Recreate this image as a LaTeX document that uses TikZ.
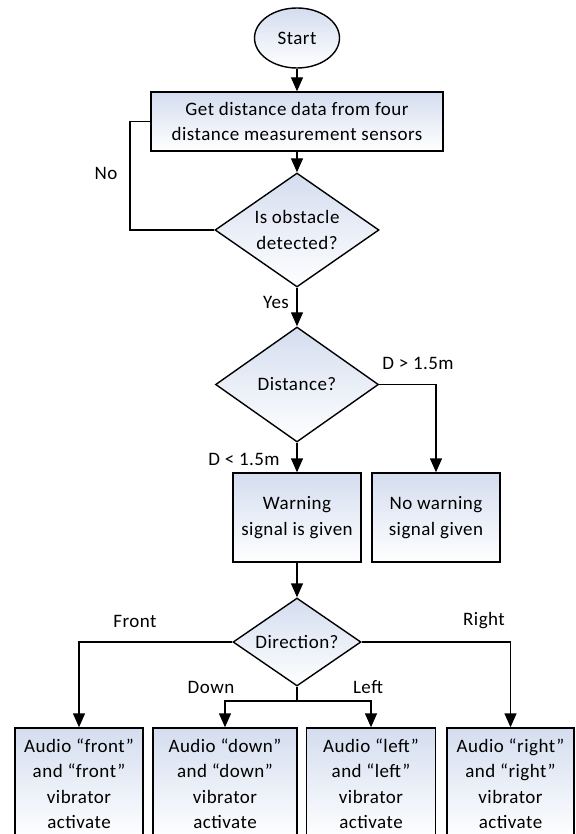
\documentclass[tikz,border=0pt]{standalone}
\usepackage{fontspec}
\setmainfont{Carlito}[LetterSpace=2.5]
\usetikzlibrary{shapes.geometric,arrows.meta}
\definecolor{shadetop}{RGB}{212,221,239}
\begin{document}
\begin{tikzpicture}[x=1pt,y=-1pt,
  base/.style={draw=black, line width=1.4pt, top color=shadetop, bottom color=white,
    font=\fontsize{19}{25.5}\selectfont, align=center, inner sep=0pt},
  procbox/.style={base, rectangle},
  decision/.style={base, diamond, shape aspect=1.44},
  term/.style={base, ellipse},
  lbl/.style={font=\fontsize{19}{25.5}\selectfont, inner sep=0pt},
  conn/.style={line width=1.4pt, -{Triangle[length=14pt,width=12pt]}},
  plainline/.style={line width=1.4pt}]
\useasboundingbox (0,0) rectangle (575,834);
\clip (0,0) rectangle (575,834);

\node[term, minimum width=85, minimum height=60] (start) at (297,38) {Start};
\node[procbox, minimum width=292, minimum height=59] (get) at (297,121.5)
  {Get distance data from four\\distance measurement sensors};
\node[decision, minimum width=164, minimum height=114] (obst) at (297,230) {Is obstacle\\detected?};
\node[decision, minimum width=163, minimum height=115] (dist) at (297,384.5) {Distance?};
\node[procbox, minimum width=128, minimum height=89] (warn) at (297,517.5) {Warning\\signal is given};
\node[procbox, minimum width=128, minimum height=89] (nowarn) at (436,517.5) {No warning\\signal given};
\node[decision, minimum width=128, minimum height=88] (dir) at (297,642) {Direction?};

\node[procbox, minimum width=128, minimum height=111] (front) at (79,783.5)
  {Audio “front”\\and “front”\\vibrator\\activate};
\node[procbox, minimum width=144, minimum height=111] (down) at (225,783.5)
  {Audio “down”\\and “down”\\vibrator\\activate};
\node[procbox, minimum width=129, minimum height=111] (left) at (371,783.5)
  {Audio “left”\\and “left”\\vibrator\\activate};
\node[procbox, minimum width=127, minimum height=111] (right) at (510.5,783.5)
  {Audio “right”\\and “right”\\vibrator\\activate};

\coordinate (loopx) at (130,230);
\coordinate (split) at (297,701);

\draw[conn] (start) -- (get);
\draw[conn] (get) -- (obst);
\draw[plainline] (obst.west) -- (loopx) |- (get.west);
\draw[conn] (obst) -- (dist);
\draw[conn] (dist) -- (warn);
\draw[conn] (dist.east) -| (nowarn.north);
\draw[conn] (warn) -- (dir);
\draw[conn] (dir.west) -| (front.north);
\draw[conn] (dir.east) -| (right.north);
\draw[plainline] (dir.south) -- (split);
\draw[conn] (split) -| (down.north);
\draw[conn] (split) -| (left.north);

\node[lbl] (lno) at (106,173) {No};
\node[lbl] (lyes) at (276,302) {Yes};
\node[lbl] (lgt) at (418,363) {D > 1.5m};
\node[lbl] (llt) at (244,459) {D < 1.5m};
\node[lbl] (lfront) at (135,621) {Front};
\node[lbl] (lright) at (484,621) {Right};
\node[lbl] (ldown) at (211,687) {Down};
\node[lbl] (lleft) at (368,687) {Left};
\end{tikzpicture}
\end{document}
